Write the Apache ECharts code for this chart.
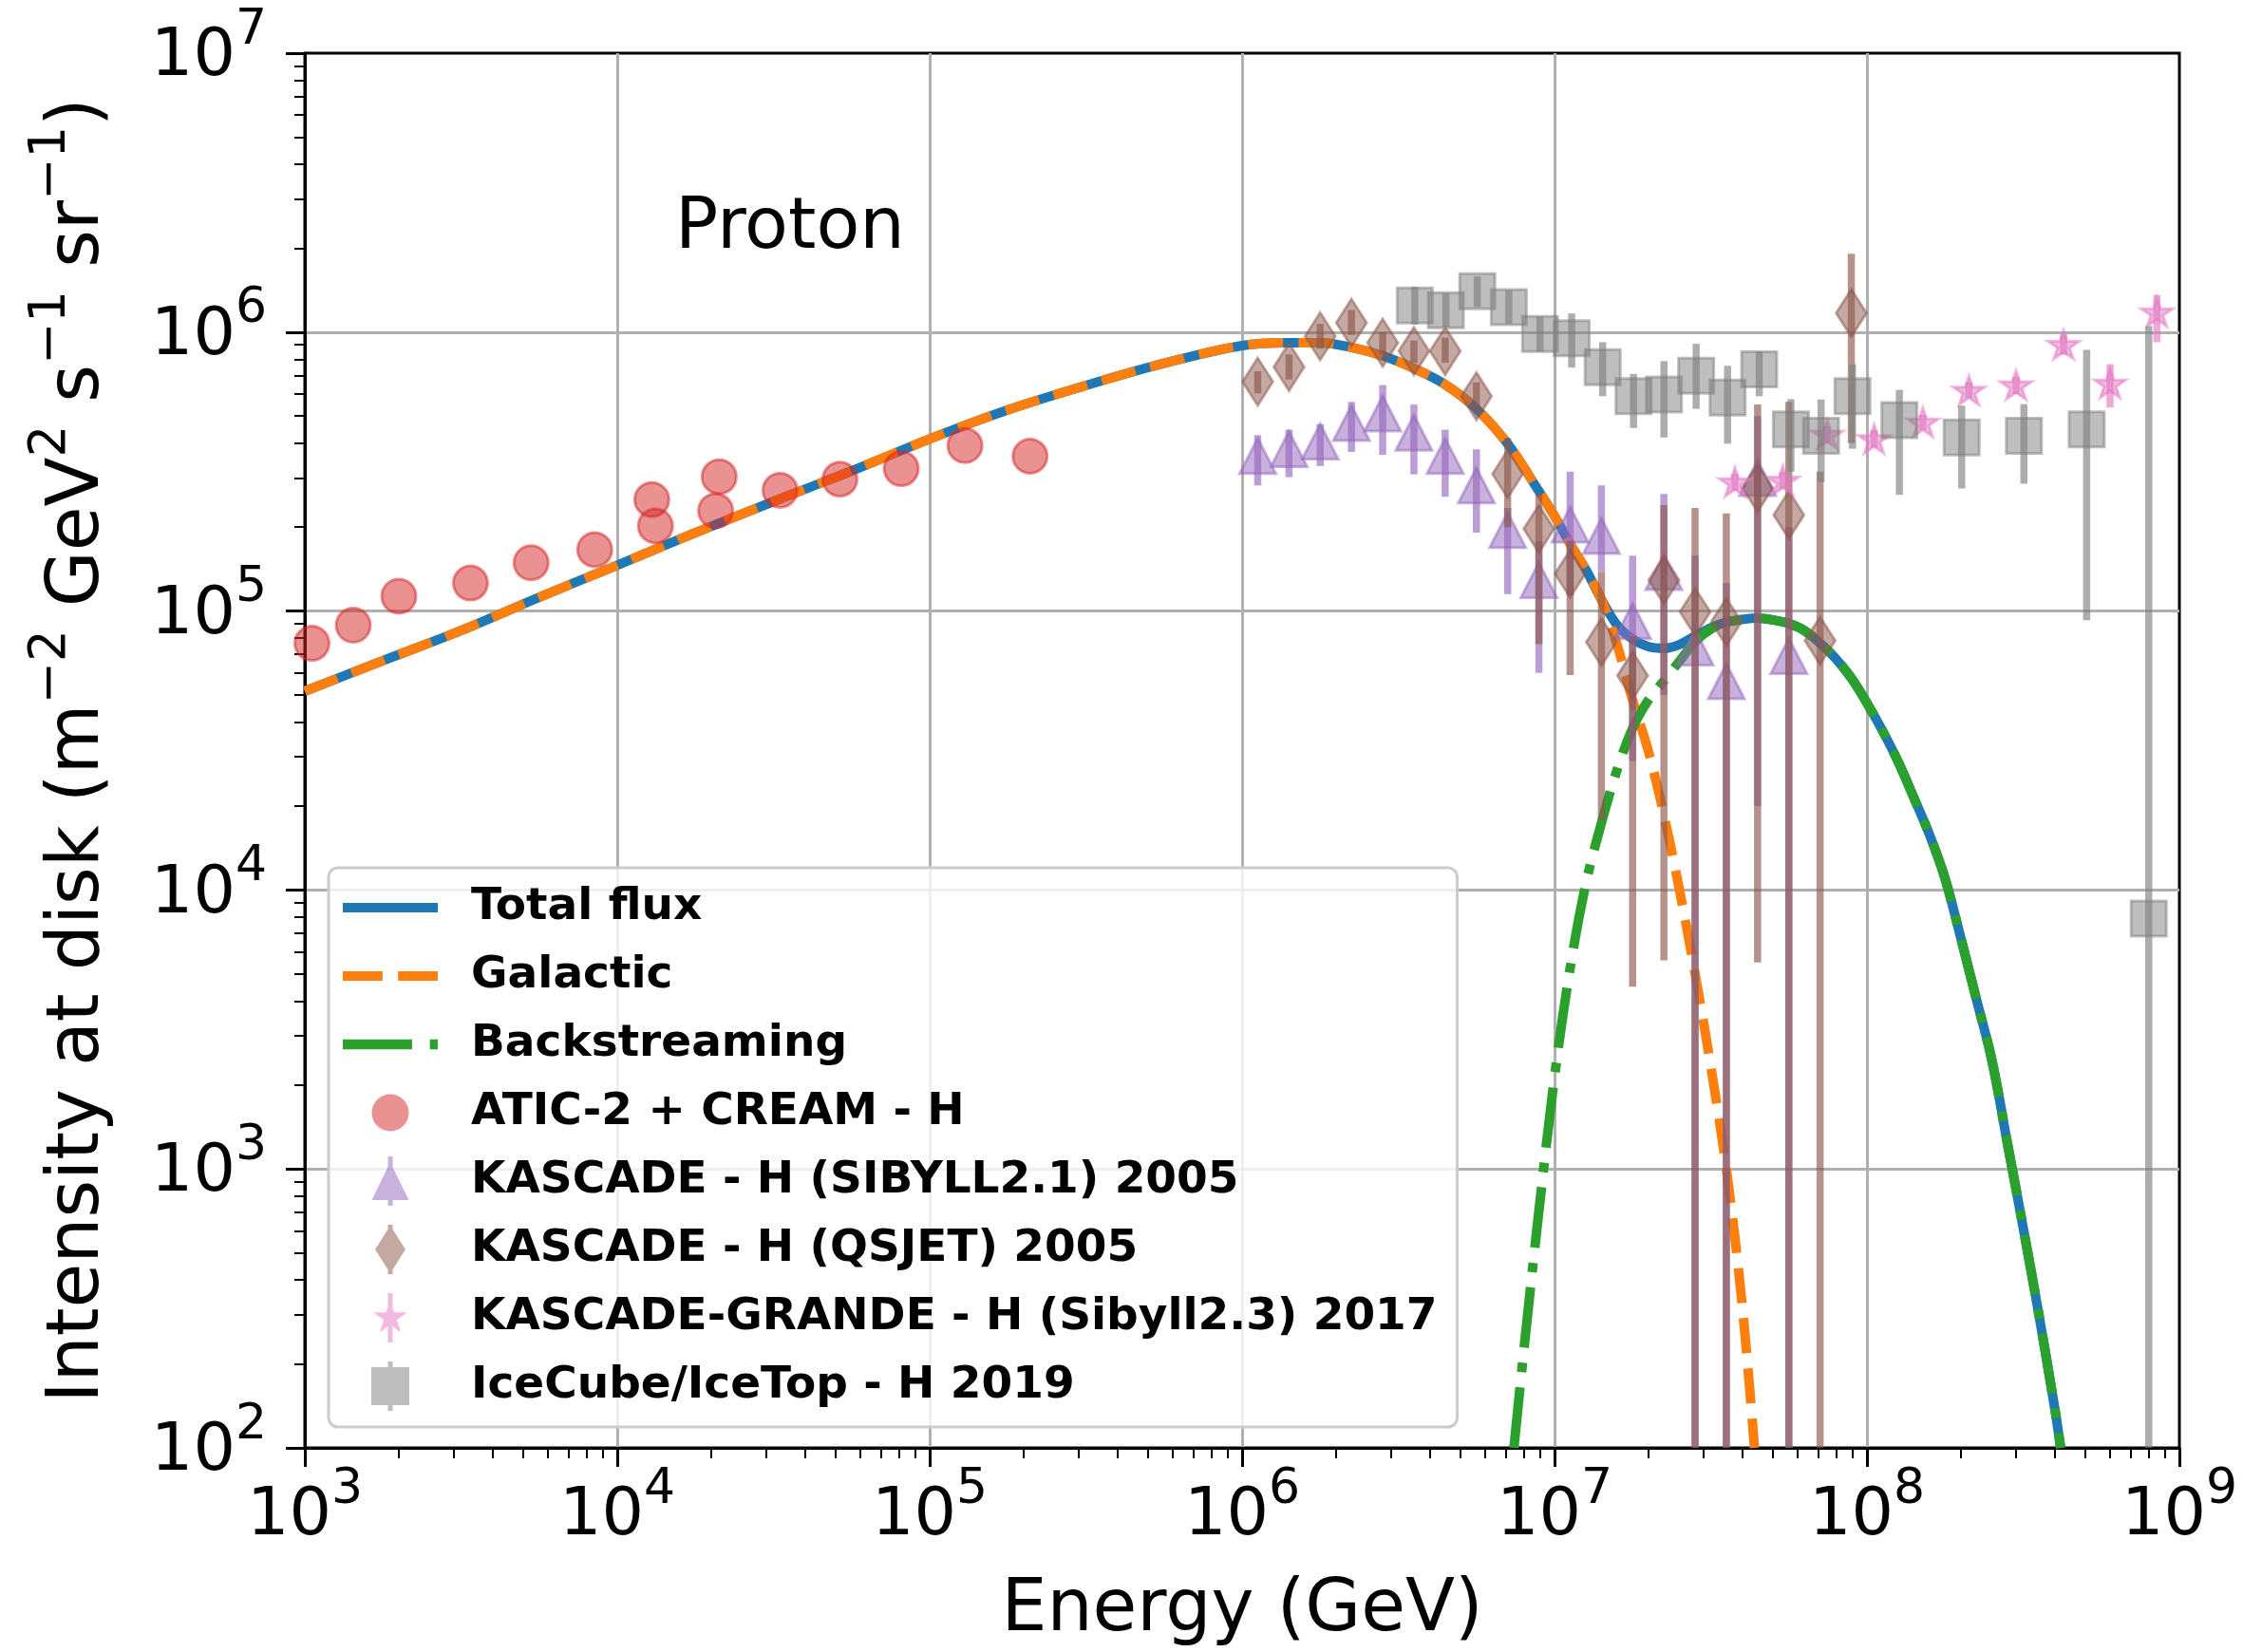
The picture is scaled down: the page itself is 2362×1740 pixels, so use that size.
<!DOCTYPE html>
<html><head><meta charset="utf-8">
<script src="https://cdn.jsdelivr.net/npm/echarts@6/dist/echarts.min.js"></script>
<style>html,body{margin:0;padding:0;background:#fff}#c{width:2362px;height:1740px}</style>
</head><body><div id="c"></div>
<script>
// ---------- axis ticks ----------
const xTickValues = [1e3, 1e4, 1e5, 1e6, 1e7, 1e8, 1e9];
const yTickValues = [1e2, 1e3, 1e4, 1e5, 1e6, 1e7];

// ---------- model curves (Energy GeV, Intensity m^-2 GeV^2 s^-1 sr^-1) ----------
const galacticE = [1000,1778,3162,5623,10000,17783,31623,56234,100000,177828,316228,562341,1.0e6,1.413e6,1.778e6,2.239e6,2.818e6,3.548e6,4.467e6,5.623e6,7.079e6,8.913e6,1.0e7,1.122e7,1.259e7,1.413e7,1.585e7,1.778e7,1.995e7,2.239e7,2.512e7,2.818e7,3.162e7,3.548e7,3.981e7,4.365e7];
const galacticI = [5.16e4,6.64e4,8.51e4,1.12e5,1.46e5,1.91e5,2.47e5,3.18e5,4.14e5,5.26e5,6.44e5,7.73e5,8.95e5,9.16e5,9.16e5,8.81e5,8.22e5,7.41e5,6.49e5,5.31e5,3.98e5,2.69e5,2.19e5,1.74e5,1.41e5,1.10e5,7.59e4,4.79e4,3.16e4,1.86e4,1.0e4,5.01e3,2.34e3,1.0e3,331,100];

const totalE = [1000,1778,3162,5623,10000,17783,31623,56234,100000,177828,316228,562341,1.0e6,1.413e6,1.778e6,2.239e6,2.818e6,3.548e6,4.467e6,5.623e6,7.079e6,8.913e6,1.0e7,1.122e7,1.259e7,1.413e7,1.585e7,1.778e7,1.995e7,2.239e7,2.512e7,2.818e7,3.162e7,3.548e7,3.981e7,4.467e7,5.012e7,5.623e7,6.310e7,7.079e7,7.943e7,8.913e7,1.0e8,1.122e8,1.259e8,1.413e8,1.585e8,1.778e8,1.995e8,2.239e8,2.512e8,2.818e8,3.162e8,3.548e8,3.981e8,4.169e8];
const totalI = [5.16e4,6.64e4,8.51e4,1.12e5,1.46e5,1.91e5,2.47e5,3.18e5,4.14e5,5.26e5,6.44e5,7.73e5,8.95e5,9.16e5,9.16e5,8.81e5,8.22e5,7.41e5,6.49e5,5.31e5,3.98e5,2.69e5,2.19e5,1.74e5,1.41e5,1.10e5,8.91e4,7.94e4,7.46e4,7.35e4,7.59e4,8.13e4,8.71e4,9.12e4,9.33e4,9.44e4,9.29e4,9.02e4,8.51e4,7.67e4,6.76e4,5.75e4,4.68e4,3.72e4,2.88e4,2.14e4,1.58e4,1.10e4,6.76e3,4.07e3,2.45e3,1.23e3,617,302,141,100];

const backE = [7.413e6,7.943e6,8.913e6,1.0e7,1.122e7,1.259e7,1.413e7,1.585e7,1.778e7,1.995e7,2.239e7,2.512e7,2.818e7,3.162e7,3.548e7,3.981e7,4.467e7,5.012e7,5.623e7,6.310e7,7.079e7,7.943e7,8.913e7,1.0e8,1.122e8,1.259e8,1.413e8,1.585e8,1.778e8,1.995e8,2.239e8,2.512e8,2.818e8,3.162e8,3.548e8,3.981e8,4.169e8];
const backI = [100,214,708,2138,5248,1.05e4,1.74e4,2.69e4,3.80e4,4.79e4,5.62e4,6.61e4,7.76e4,8.61e4,9.08e4,9.33e4,9.44e4,9.29e4,9.02e4,8.51e4,7.67e4,6.76e4,5.75e4,4.68e4,3.72e4,2.88e4,2.14e4,1.58e4,1.10e4,6.76e3,4.07e3,2.45e3,1.23e3,617,302,141,100];

// ---------- measurements ----------
const aticE = [1054,1429,2000,3390,5300,8470,12900,13250,21200,20650,33200,51600,81100,129700,209500];
const aticI = [7.66e4,8.9e4,1.13e5,1.26e5,1.49e5,1.66e5,2.51e5,2.02e5,3.03e5,2.29e5,2.71e5,2.97e5,3.24e5,3.92e5,3.59e5];

const sibE  = [1.122e6,1.413e6,1.778e6,2.239e6,2.818e6,3.548e6,4.467e6,5.623e6,7.079e6,8.913e6,1.122e7,1.413e7,1.778e7,2.239e7,2.818e7,3.548e7,4.467e7,5.623e7];
const sibI  = [3.60e5,3.81e5,4.05e5,4.72e5,5.11e5,4.36e5,3.60e5,2.82e5,1.95e5,1.29e5,2.04e5,1.86e5,9.2e4,1.38e5,7.4e4,5.6e4,3.0e5,6.9e4];
const sibLo = [2.82e5,3.02e5,3.31e5,3.72e5,3.63e5,3.09e5,2.57e5,1.91e5,1.15e5,6.0e4,1.14e5,1.38e5,2.9e4,5.0e4,1,1,2.0e4,1];
const sibHi = [4.27e5,4.47e5,4.68e5,5.62e5,6.46e5,5.50e5,4.47e5,3.80e5,2.34e5,1.78e5,3.16e5,2.82e5,1.58e5,2.63e5,1.58e5,1.26e5,5.0e5,2.0e5];

const qsjE  = [1.122e6,1.413e6,1.778e6,2.239e6,2.818e6,3.548e6,4.467e6,5.623e6,7.079e6,8.913e6,1.122e7,1.413e7,1.778e7,2.239e7,2.818e7,3.548e7,4.467e7,5.623e7,7.079e7,8.913e7];
const qsjI  = [6.64e5,7.5e5,9.66e5,1.08e6,9.16e5,8.55e5,8.55e5,5.89e5,3.10e5,1.97e5,1.36e5,7.74e4,5.87e4,1.29e5,9.93e4,9.14e4,2.76e5,2.21e5,7.83e4,1.17e6];
const qsjLo = [6.03e5,6.76e5,8.71e5,9.77e5,8.32e5,7.76e5,7.76e5,5.25e5,2.0e5,7.6e4,5.9e4,1.78e4,4.5e3,5.6e3,1,1,5.5e3,1,1,4.0e5];
const qsjHi = [7.24e5,8.32e5,1.07e6,1.20e6,1.0e6,9.33e5,9.55e5,6.61e5,4.17e5,2.63e5,1.78e5,1.38e5,8.13e4,2.40e5,2.34e5,2.24e5,5.50e5,5.62e5,3.16e5,1.91e6];

const kgE  = [3.78e7,5.38e7,7.46e7,1.054e8,1.51e8,2.12e8,3.0e8,4.26e8,6.0e8,8.47e8];
const kgI  = [2.9e5,2.94e5,4.3e5,4.14e5,4.75e5,6.18e5,6.46e5,9.02e5,6.55e5,1.18e6];
const kgLo = [2.7e5,2.75e5,4.0e5,3.85e5,4.45e5,5.8e5,6.0e5,8.3e5,5.37e5,9.2e5];
const kgHi = [3.1e5,3.15e5,4.6e5,4.45e5,5.05e5,6.6e5,6.9e5,9.8e5,7.67e5,1.36e6];

const icE  = [3.57e6,4.49e6,5.66e6,7.14e6,8.99e6,1.135e7,1.426e7,1.79e7,2.24e7,2.84e7,3.58e7,4.52e7,5.71e7,7.13e7,8.99e7,1.27e8,2.01e8,3.18e8,5.05e8,7.98e8];
const icI  = [1.245e6,1.197e6,1.40e6,1.23e6,9.84e5,9.51e5,7.48e5,5.89e5,5.97e5,6.98e5,5.82e5,7.36e5,4.48e5,4.25e5,5.89e5,4.84e5,4.19e5,4.25e5,4.48e5,7.9e3];
const icLo = [1.064e6,1.047e6,1.23e6,1.072e6,8.51e5,7.46e5,5.89e5,4.53e5,4.19e5,5.31e5,3.98e5,5.89e5,3.16e5,2.90e5,3.82e5,2.61e5,2.75e5,2.86e5,9.27e4,1];
const icHi = [1.455e6,1.38e6,1.585e6,1.413e6,1.135e6,1.167e6,9.2e5,7.08e5,7.87e5,9.08e5,7.57e5,8.51e5,5.75e5,5.74e5,7.66e5,6.21e5,5.45e5,5.52e5,8.63e5,1.05e6];

// ---------- styling ----------
const FONT = 'DejaVu Sans';
const COL = {blue:'#1f77b4', orange:'#ff7f0e', green:'#2ca02c', red:'#d62728', purple:'#9467bd', brown:'#8c564b', pink:'#e377c2', gray:'#7f7f7f'};
const ALPHA = 0.64;
function rgba(hex, a) {
  const n = parseInt(hex.slice(1), 16);
  return 'rgba(' + (n >> 16) + ',' + ((n >> 8) & 255) + ',' + (n & 255) + ',' + a + ')';
}
function pairs(xs, ys) { return xs.map((x, i) => [x, ys[i]]); }
function triples(xs, lo, hi) { return xs.map((x, i) => [x, lo[i], hi[i]]); }

const STAR = 'path://M100,0 L122.45,69.1 L195.1,69.1 L136.33,111.8 L158.8,180.9 L100,138.2 L41.2,180.9 L63.67,111.8 L4.9,69.1 L77.55,69.1 Z';
// legend handles (52 px tall box)
const ICON_LINE = 'path://M0,0 L100,0 L100,10 L0,10 Z';
const ICON_DASH = 'path://M0,0 L41,0 L41,10 L0,10 Z M57,0 L98,0 L98,10 L57,10 Z';
const ICON_DASHDOT = 'path://M0,0 L70,0 L70,10 L0,10 Z M88,0 L96,0 L96,10 L88,10 Z';
const ICON_CIRC = 'path://M20,0 L20,0 Z M20,52 L20,52 Z M39.5,26 A19.5,19.5 0 1 1 0.5,26 A19.5,19.5 0 1 1 39.5,26 Z';
const ICON_TRI = 'path://M17,0 L22,0 L22,52 L17,52 Z M19.5,6 L39,46 L0,46 Z';
const ICON_DIA = 'path://M13.5,0 L18.5,0 L18.5,52 L13.5,52 Z M16,1 L32,26 L16,51 L0,26 Z';
const ICON_STAR = 'path://M15.5,0 L20.5,0 L20.5,52 L15.5,52 Z M18,7 L22.27,20.13 L36.07,20.13 L24.9,28.24 L29.17,41.37 L18,33.26 L6.83,41.37 L11.1,28.24 L0,20.13 L13.73,20.13 Z';
const ICON_SQ = 'path://M17.5,0 L22.5,0 L22.5,52 L17.5,52 Z M0,6 L40,6 L40,46 L0,46 Z';

function errSeries(name, xs, lo, hi, color, z) {
  return {
    type: 'custom', name: name + ' err', z: z, silent: true,
    data: triples(xs, lo, hi),
    encode: {x: 0, y: [1, 2]},
    renderItem: function (params, api) {
      const cs = params.coordSys;
      const p1 = api.coord([api.value(0), api.value(1)]);
      const p2 = api.coord([api.value(0), api.value(2)]);
      let top = Math.min(p1[1], p2[1]);
      let bot = Math.max(p1[1], p2[1]);
      if (!isFinite(bot)) bot = cs.y + cs.height;
      top = Math.max(top, cs.y);
      bot = Math.min(bot, cs.y + cs.height);
      const w = 7.5;
      return {type: 'rect', shape: {x: p1[0] - w / 2, y: top, width: w, height: Math.max(0, bot - top)},
              style: {fill: rgba(color, ALPHA)}};
    }
  };
}
function markSeries(name, xs, ys, color, symbol, size, z) {
  return {
    type: 'scatter', name: name, z: z, data: pairs(xs, ys),
    symbol: symbol, symbolSize: size, symbolKeepAspect: true,
    itemStyle: {color: rgba(color, ALPHA), borderColor: rgba(color, ALPHA), borderWidth: 3},
    emphasis: {disabled: true}
  };
}
function lineSeries(name, xs, ys, color, dash, z) {
  return {
    type: 'line', name: name, z: z, data: pairs(xs, ys),
    symbol: 'none', showSymbol: false, smooth: 0.35,
    itemStyle: {color: color},
    lineStyle: {color: color, width: 10, type: dash, cap: 'butt'},
    emphasis: {disabled: true}
  };
}

const supRich = {
  b: {fontFamily: FONT, fontSize: 70, color: '#000', lineHeight: 80, verticalAlign: 'bottom'},
  s: {fontFamily: FONT, fontSize: 52, color: '#000', lineHeight: 52, verticalAlign: 'bottom', padding: [0, 0, 38, 0]}
};
function powLabel(v) { return '{b|10}{s|' + Math.round(Math.log10(v)) + '}'; }

const axisCommon = {
  type: 'log', logBase: 10,
  axisLine: {show: true, lineStyle: {color: '#000', width: 3}},
  axisTick: {show: true, inside: false, length: 20, lineStyle: {color: '#000', width: 3}},
  minorTick: {show: true, splitNumber: 9, length: 11, lineStyle: {color: '#000', width: 2}},
  splitLine: {show: true, showMinLine: false, showMaxLine: false, lineStyle: {color: '#b0b0b0', width: 3}},
  minorSplitLine: {show: false},
};

const option = {
  animation: false,
  backgroundColor: '#fff',
  grid: {left: 321, top: 56, width: 1974, height: 1469, show: true, borderColor: '#000', borderWidth: 3,
         backgroundColor: 'transparent', containLabel: false, outerBoundsMode: 'none'},
  xAxis: Object.assign({}, axisCommon, {
    min: xTickValues[0], max: xTickValues[xTickValues.length - 1], splitNumber: 6,
    axisLabel: {margin: 28, formatter: powLabel, rich: supRich, showMinLabel: true, showMaxLabel: true},
    name: 'Energy (GeV)', nameLocation: 'middle', nameGap: 134,
    nameTextStyle: {fontFamily: FONT, fontSize: 76, color: '#000'}
  }),
  yAxis: Object.assign({}, axisCommon, {
    min: yTickValues[0], max: yTickValues[yTickValues.length - 1], splitNumber: 5,
    axisLabel: {margin: 40, formatter: powLabel, rich: supRich, showMinLabel: true, showMaxLabel: true},
    name: '{n|Intensity at disk (m}{s|\u22122}{n| GeV}{s|2}{n| s}{s|\u22121}{n| sr}{s|\u22121}{n|)}',
    nameLocation: 'middle', nameRotate: 90, nameGap: 200,
    nameTextStyle: {
      color: '#000',
      rich: {
        n: {fontFamily: FONT, fontSize: 76, color: '#000', lineHeight: 90, verticalAlign: 'bottom'},
        s: {fontFamily: FONT, fontSize: 53, color: '#000', lineHeight: 53, verticalAlign: 'bottom', padding: [0, 0, 40, 0]}
      }
    }
  }),
  legend: {
    orient: 'vertical', left: 346, top: 914,
    padding: [16, 21, 17, 15],
    itemWidth: 100, itemHeight: 52, itemGap: 20,
    itemStyle: {borderWidth: 0},
    backgroundColor: 'rgba(255,255,255,0.8)', borderColor: '#cccccc', borderWidth: 3, borderRadius: 10,
    selectedMode: false,
    textStyle: {fontFamily: FONT, fontWeight: 'bold', fontSize: 47, color: '#000', lineHeight: 52, padding: [0, 0, 0, 30]},
    data: [
      {name: 'Total flux', icon: ICON_LINE},
      {name: 'Galactic', icon: ICON_DASH},
      {name: 'Backstreaming', icon: ICON_DASHDOT},
      {name: 'ATIC-2 + CREAM - H', icon: ICON_CIRC},
      {name: 'KASCADE - H (SIBYLL2.1) 2005', icon: ICON_TRI},
      {name: 'KASCADE - H (QSJET) 2005', icon: ICON_DIA},
      {name: 'KASCADE-GRANDE - H (Sibyll2.3) 2017', icon: ICON_STAR},
      {name: 'IceCube/IceTop - H 2019', icon: ICON_SQ}
    ]
  },
  graphic: [{
    type: 'text', left: 711, top: 204,
    style: {text: 'Proton', font: '75px "DejaVu Sans"', fill: '#000'}
  }],
  series: [
    lineSeries('Total flux', totalE, totalI, COL.blue, 'solid', 2),
    lineSeries('Galactic', galacticE, galacticI, COL.orange, [37, 16], 3),
    lineSeries('Backstreaming', backE, backI, COL.green, [64, 16, 10, 16], 4),
    errSeries('ATIC-2 + CREAM - H', aticE, aticI, aticI, COL.red, 10),
    markSeries('ATIC-2 + CREAM - H', aticE, aticI, COL.red, 'circle', 36, 11),
    errSeries('KASCADE - H (SIBYLL2.1) 2005', sibE, sibLo, sibHi, COL.purple, 12),
    markSeries('KASCADE - H (SIBYLL2.1) 2005', sibE, sibI, COL.purple, 'triangle', [38, 37], 13),
    errSeries('KASCADE - H (QSJET) 2005', qsjE, qsjLo, qsjHi, COL.brown, 14),
    markSeries('KASCADE - H (QSJET) 2005', qsjE, qsjI, COL.brown, 'diamond', [32, 50], 15),
    errSeries('KASCADE-GRANDE - H (Sibyll2.3) 2017', kgE, kgLo, kgHi, COL.pink, 16),
    markSeries('KASCADE-GRANDE - H (Sibyll2.3) 2017', kgE, kgI, COL.pink, STAR, [33, 31.5], 17),
    errSeries('IceCube/IceTop - H 2019', icE, icLo, icHi, COL.gray, 18),
    markSeries('IceCube/IceTop - H 2019', icE, icI, COL.gray, 'rect', 37, 19)
  ]
};

const chart = echarts.init(document.getElementById('c'), null, {renderer: 'canvas'});
chart.setOption(option);
</script></body></html>
